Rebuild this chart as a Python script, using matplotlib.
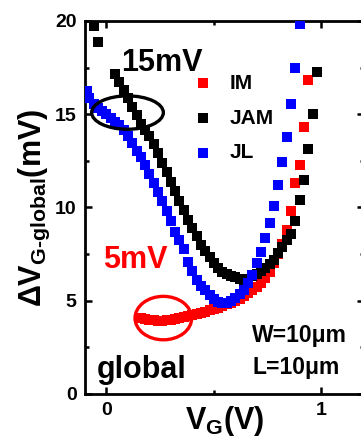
import matplotlib
matplotlib.use("Agg")
import matplotlib.pyplot as plt
from matplotlib.patches import Ellipse

plt.rcParams['font.family'] = ['Liberation Sans', 'DejaVu Sans']
plt.rcParams['font.weight'] = 'bold'
plt.rcParams['mathtext.fontset'] = 'custom'
plt.rcParams['mathtext.rm'] = 'Liberation Sans:bold'
plt.rcParams['mathtext.bf'] = 'Liberation Sans:bold'
plt.rcParams['mathtext.default'] = 'rm'

# --- data (VG in V, dV in mV) ---
im_vg = [0.15, 0.16, 0.18, 0.20, 0.22, 0.24, 0.26, 0.28, 0.30, 0.32, 0.34, 0.36,
         0.38, 0.40, 0.42, 0.44, 0.46, 0.48, 0.50, 0.52, 0.54, 0.56, 0.58, 0.60,
         0.62, 0.64, 0.66, 0.68, 0.70, 0.72, 0.74, 0.76, 0.78, 0.80, 0.82, 0.84,
         0.86, 0.88, 0.90, 0.92, 0.94]
im_dv = [4.10, 4.05, 4.00, 3.98, 3.95, 3.93, 3.93, 3.95, 3.98, 4.02, 4.07, 4.12,
         4.18, 4.24, 4.30, 4.36, 4.42, 4.48, 4.55, 4.62, 4.70, 4.80, 4.90, 5.00,
         5.10, 5.25, 5.40, 5.55, 5.75, 5.95, 6.20, 6.55, 7.00, 7.50, 8.05, 8.80,
         9.80, 11.30, 12.30, 14.30, 16.85]

jam_vg = [-0.06, -0.04, 0.04, 0.06, 0.08, 0.10, 0.12, 0.14, 0.16, 0.18, 0.20,
          0.22, 0.24, 0.26, 0.28, 0.30, 0.32, 0.34, 0.36, 0.38, 0.40, 0.42, 0.44,
          0.46, 0.48, 0.50, 0.52, 0.54, 0.56, 0.58, 0.60, 0.62, 0.64, 0.66, 0.68,
          0.70, 0.72, 0.74, 0.76, 0.78, 0.80, 0.82, 0.84, 0.86, 0.88, 0.90, 0.92,
          0.94, 0.96, 0.98]
jam_dv = [19.75, 18.85, 17.15, 16.75, 16.30, 15.85, 15.40, 14.95, 14.50, 14.15,
          13.85, 13.40, 12.90, 12.40, 11.90, 11.35, 10.90, 10.35, 9.85, 9.35,
          8.90, 8.45, 8.00, 7.65, 7.35, 7.00, 6.75, 6.55, 6.45, 6.35, 6.25, 6.15,
          6.13, 6.18, 6.30, 6.45, 6.60, 6.75, 6.95, 7.20, 7.55, 7.90, 8.25, 8.60,
          9.30, 10.40, 11.45, 13.15, 15.00, 17.25]

jl_vg = [-0.09, -0.08, -0.06, -0.04, -0.02, 0.00, 0.02, 0.04, 0.06, 0.08, 0.10,
         0.12, 0.14, 0.16, 0.18, 0.20, 0.22, 0.24, 0.26, 0.28, 0.30, 0.32, 0.34,
         0.36, 0.38, 0.40, 0.42, 0.44, 0.46, 0.48, 0.50, 0.52, 0.54, 0.56, 0.58,
         0.60, 0.62, 0.64, 0.66, 0.68, 0.70, 0.72, 0.74, 0.76, 0.78, 0.80, 0.82,
         0.84, 0.86, 0.88, 0.90]
jl_dv = [16.25, 15.85, 15.55, 15.35, 15.15, 15.00, 14.80, 14.60, 14.40, 14.15,
         13.85, 13.45, 13.05, 12.70, 12.30, 11.80, 11.30, 10.85, 10.35, 9.80,
         9.25, 8.70, 8.25, 7.80, 7.10, 6.60, 6.10, 5.80, 5.55, 5.30, 5.10, 4.95,
         4.88, 4.90, 5.00, 5.15, 5.35, 5.60, 5.95, 6.40, 7.00, 7.60, 8.35, 9.15,
         10.10, 11.20, 12.45, 13.80, 15.55, 17.50, 19.85]

x_ticks = [0, 1]
y_ticks = [0, 5, 10, 15, 20]

fig = plt.figure(figsize=(3.61, 4.41), dpi=100)
ax = fig.add_axes([0.2355, 0.1066, 0.773, 0.8458])

ms = 42
ax.scatter(im_vg, im_dv, s=ms, marker='s', color='#ff0000', linewidths=0, label='IM', zorder=3)
ax.scatter(jam_vg, jam_dv, s=ms, marker='s', color='black', linewidths=0, label='JAM', zorder=4)
ax.scatter(jl_vg, jl_dv, s=ms, marker='s', color='#0000ff', linewidths=0, label='JL', zorder=5)

# circled regions
ax.add_patch(Ellipse((0.098, 15.09), 0.334, 1.79, fill=False, ec='black', lw=2.4, zorder=6))
ax.add_patch(Ellipse((0.265, 4.07), 0.264, 2.33, fill=False, ec='#ff0000', lw=2.4, zorder=6))

ax.text(0.26, 17.75, '15mV', fontsize=22, fontweight='bold', ha='center', va='center')
ax.text(0.133, 7.2, '5mV', fontsize=22, fontweight='bold', color='#ff0000', ha='center', va='center')
ax.text(-0.045, 0.85, 'global', fontsize=22, fontweight='bold', ha='left', va='baseline')
ax.text(0.68, 2.8, 'W=10μm', fontsize=16.5, fontweight='bold', ha='left', va='baseline')
ax.text(0.68, 1.08, 'L=10μm', fontsize=16.5, fontweight='bold', ha='left', va='baseline')

ax.set_xlim(-0.1, 1.2)
ax.set_ylim(0, 20)
ax.set_xticks(x_ticks)
ax.set_xticks([0.5], minor=True)
ax.set_yticks(y_ticks)
ax.set_yticks([2.5, 7.5, 12.5, 17.5], minor=True)
ax.tick_params(which='both', direction='in', top=True, right=True, width=1.8, labelsize=14)
ax.tick_params(which='major', length=5, pad=6)
ax.tick_params(which='minor', length=3)
for s in ax.spines.values():
    s.set_linewidth(2)

ax.set_xlabel(r'V$_\mathrm{G}$(V)', fontsize=22, fontweight='bold', labelpad=-11)
ax.set_ylabel(r'$\Delta$V$_\mathrm{G\text{-}global}$(mV)', fontsize=22, fontweight='bold', labelpad=2)

ax.legend(loc='upper left', bbox_to_anchor=(0.393, 0.858), frameon=False, fontsize=15,
          handlelength=0.8, handletextpad=0.9, labelspacing=0.75, borderpad=0, borderaxespad=0,
          markerscale=1.0)

fig.savefig('out.png', dpi=100)
